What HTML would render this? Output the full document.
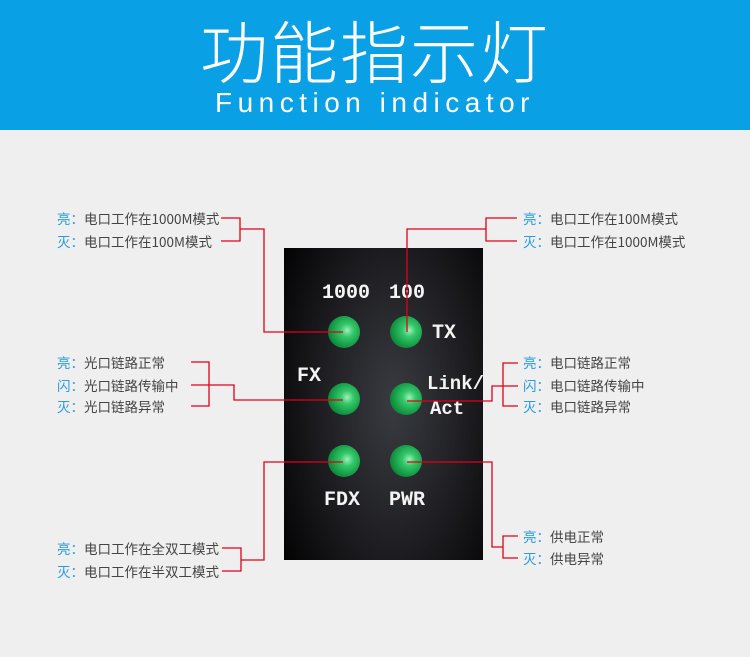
<!DOCTYPE html>
<html><head><meta charset="utf-8"><style>
body{margin:0;width:750px;height:657px;background:#efefef;position:relative;overflow:hidden;font-family:"Liberation Sans","Noto Sans CJK SC",sans-serif}
.hd{position:absolute;left:0;top:0;width:750px;height:130px;background:#0aa0e6}
.t1{position:absolute;left:0;width:750px;top:6px;text-align:center;color:#fff;font-size:68px;letter-spacing:2px;font-family:"Noto Sans CJK SC",sans-serif;font-weight:300;line-height:86px}
.t2{position:absolute;left:0;width:750px;top:86px;text-align:center;color:#fff;font-size:28px;letter-spacing:5.5px;line-height:34px}
.panel{position:absolute;left:284px;top:248px;width:199px;height:312px;background:radial-gradient(ellipse 70% 90% at 55% 50%,#3a3b40 0%,#1c1c20 55%,#000 100%)}
.led{position:absolute;width:32px;height:32px;border-radius:50%;background:radial-gradient(circle at 60% 45%,#9ff0b8 0%,#34c86a 25%,#159a45 60%,#0a5a28 100%)}
.lb{position:absolute;color:#f4f4f4;font-family:"Liberation Mono",monospace;font-weight:bold;font-size:20px;line-height:22px}
.tx{position:absolute;font-size:13.5px;color:#444;line-height:16px;white-space:nowrap;font-family:"Noto Sans CJK SC","Liberation Sans",sans-serif}
.tx b{color:#2a9be0;font-weight:normal}
</style></head><body>
<div class="hd"><div class="t1">功能指示灯</div><div class="t2">Function indicator</div></div>
<div class="panel"></div>
<div class="led" style="left:328px;top:316px"></div>
<div class="led" style="left:390px;top:316px"></div>
<div class="led" style="left:328px;top:383px"></div>
<div class="led" style="left:390px;top:383px"></div>
<div class="led" style="left:328px;top:445px"></div>
<div class="led" style="left:390px;top:445px"></div>
<div class="lb" style="left:322px;top:283px">1000</div>
<div class="lb" style="left:389px;top:283px">100</div>
<div class="lb" style="left:432px;top:323px">TX</div>
<div class="lb" style="left:297px;top:366px">FX</div>
<div class="lb" style="left:427px;top:373px;font-size:19px">Link/</div>
<div class="lb" style="left:430px;top:398px;font-size:19px">Act</div>
<div class="lb" style="left:324px;top:490px">FDX</div>
<div class="lb" style="left:389px;top:490px">PWR</div>
<svg width="750" height="657" style="position:absolute;left:0;top:0" fill="none" stroke="#e0001a" stroke-width="1.3">
<path d="M221 218H240V241H221M240 229H264V332H343"/>
<path d="M191 362H209V406H191M191 385H234V400H343"/>
<path d="M222 548H241V571H222M241 560H264V462H343"/>
<path d="M517 218H486V241H517M486 229H407V332"/>
<path d="M518 363H503V406H518M518 386H492V401H407"/>
<path d="M407 462H492V547H503M518 536H503V558H518"/>
</svg>
<div class="tx" style="left:57px;top:210px"><b>亮：</b>电口工作在1000M模式</div>
<div class="tx" style="left:57px;top:233px"><b>灭：</b>电口工作在100M模式</div>
<div class="tx" style="left:57px;top:354px"><b>亮：</b>光口链路正常</div>
<div class="tx" style="left:57px;top:377px"><b>闪：</b>光口链路传输中</div>
<div class="tx" style="left:57px;top:398px"><b>灭：</b>光口链路异常</div>
<div class="tx" style="left:57px;top:540px"><b>亮：</b>电口工作在全双工模式</div>
<div class="tx" style="left:57px;top:563px"><b>灭：</b>电口工作在半双工模式</div>
<div class="tx" style="left:523px;top:210px"><b>亮：</b>电口工作在100M模式</div>
<div class="tx" style="left:523px;top:233px"><b>灭：</b>电口工作在1000M模式</div>
<div class="tx" style="left:523px;top:354px"><b>亮：</b>电口链路正常</div>
<div class="tx" style="left:523px;top:377px"><b>闪：</b>电口链路传输中</div>
<div class="tx" style="left:523px;top:398px"><b>灭：</b>电口链路异常</div>
<div class="tx" style="left:523px;top:528px"><b>亮：</b>供电正常</div>
<div class="tx" style="left:523px;top:550px"><b>灭：</b>供电异常</div>
</body></html>
